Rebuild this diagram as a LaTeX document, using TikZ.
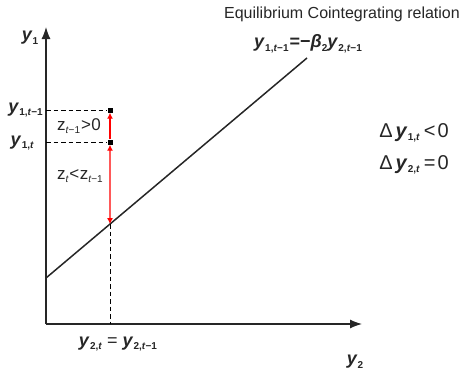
\documentclass[tikz,border=0pt]{standalone}
\usepackage{fontspec}
\setmainfont{Liberation Sans}
\usetikzlibrary{positioning,arrows.meta,calc}

% lowered small index
\newcommand{\sbs}[1]{\raisebox{-3.5pt}{\fontsize{10}{10}\selectfont #1}}
% bold italic variable with index, time and lag
\newcommand{\yv}[3]{\textbf{\textit{y}}\kern0.3pt\sbs{\textbf{#1,}\textbf{\textit{#2}}\textbf{#3}}}

\tikzset{
  lbl/.style={inner sep=0pt,font=\fontsize{18}{20}\selectfont,text=black!85},
  sqmark/.style={fill=black,minimum size=5pt,inner sep=0pt},
  dashline/.style={black,line width=0.9pt,dash pattern=on 4.5pt off 3pt},
  axis/.style={black!85,line width=1.2pt,-{Latex[length=12pt,width=9pt]}},
  redarr/.style={red,line width=1.1pt}
}

\begin{document}
\begin{tikzpicture}[x=1pt,y=-1pt]
  \useasboundingbox (0,0) rectangle (464,372);
  % axes
  \coordinate (O) at (46,324);
  \coordinate (ytop) at (46,27);
  \coordinate (xend) at (362,324);
  \draw[axis] (O) -- (ytop);
  \draw[axis] (O) -- (xend);
  \node[lbl] (ylab) at (30,38) {\textbf{\textit{y}}\sbs{\textbf{1}}};
  \node[lbl] (xlab) at (355,362) {\textbf{\textit{y}}\sbs{\textbf{2}}};
  % equilibrium line
  \coordinate (L1) at (46,278);
  \coordinate (L2) at (307,58);
  \draw[black!85,line width=1.5pt] (L1) -- (L2);
  \coordinate (P) at ($(L1)!{64/261}!(L2)$);
  \coordinate (Pbase) at (O -| P);
  % points at t-1 and t
  \node[sqmark] (sqA) at (110,110) {};
  \node[sqmark] (sqB) at (110,142) {};
  \coordinate (A0) at (O |- sqA);
  \coordinate (B0) at (O |- sqB);
  \draw[dashline] (A0) -- (sqA);
  \draw[dashline] (B0) -- (sqB);
  \draw[dashline] (P) -- (Pbase);
  % gaps
  \draw[redarr,-{Latex[length=6pt,width=6pt]}] (sqB.north) -- (sqA.south);
  \draw[redarr,{Latex[length=6pt,width=6pt]}-{Latex[length=6pt,width=6pt]}] (sqB.south) -- (P);
  % labels
  \node[lbl,anchor=east] (yA) at (43,110) {\yv{1}{t}{−1}};
  \node[lbl,anchor=east] (yB) at (34,143) {\yv{1}{t}{}};
  \node[lbl,font=\fontsize{17}{20}\selectfont] (zA) at (79,126) {z\sbs{\textit{t}−1}\kern1pt>\kern0.5pt0};
  \node[lbl,font=\fontsize{17}{20}\selectfont] (zB) at (80,176) {z\sbs{\textit{t}}\kern0.5pt<\kern0.5pt z\sbs{\textit{t}−1}};
  \node[lbl] (yeq) at (118,344) {\yv{2}{t}{} = \yv{2}{t}{−1}};
  \node[lbl,font=\fontsize{16}{18}\selectfont] (title) at (342,14) {Equilibrium Cointegrating relation};
  \node[lbl] (rel) at (308,44) {\yv{1}{t}{−1}\kern1pt\textbf{=−}\textbf{\textit{β}}\sbs{\textbf{2}}\yv{2}{t}{−1}};
  \node[lbl,font=\fontsize{20}{22}\selectfont] (d1) at (414,133) {Δ\kern3pt\yv{1}{t}{}\kern4pt<\kern2pt0};
  \node[lbl,font=\fontsize{20}{22}\selectfont] (d2) at (414,165) {Δ\kern3pt\yv{2}{t}{}\kern4pt=\kern2pt0};
\end{tikzpicture}
\end{document}
